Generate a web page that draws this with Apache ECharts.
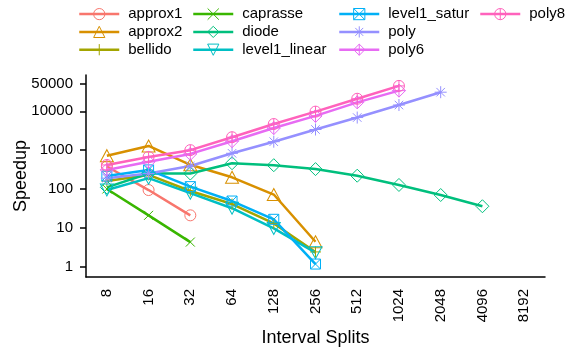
<!DOCTYPE html>
<html>
<head>
<meta charset="utf-8">
<script src="https://cdn.jsdelivr.net/npm/echarts@6/dist/echarts.min.js"></script>
<style>
  html, body { margin: 0; padding: 0; background: #fff; }
  #main { width: 566px; height: 348px; }
</style>
</head>
<body>
<div id="main"></div>
<script>
// interval split counts (x categories)
var splits = ['8', '16', '32', '64', '128', '256', '512', '1024', '2048', '4096', '8192'];
// y tick labels (log scale)
var yTicks = [1, 10, 100, 1000, 10000, 50000];

// speedup per method
var approx1 = [380, 94, 21];
var approx2 = [720, 1280, 420, 200, 72, 4.4];
var bellido = [160, 230, 89, 41, 13, 2.4];
var caprasse = [100, 21, 4.3];
var diode = [110, 250, 250, 460, 410, 325, 220, 127, 70, 36];
var level1_linear = [94, 190, 78, 32, 9.7, 2.3];
var level1_satur = [215, 310, 115, 49, 16.6, 1.17];
var poly = [190, 250, 390, 830, 1650, 3400, 6900, 14500, 31000];
var poly6 = [310, 500, 800, 1700, 3700, 7600, 17000, 34000];
var poly8 = [415, 670, 1000, 2150, 4700, 9800, 21000, 45000];

// R style pch 1..10 as outline paths
var P = {
  circle: 'path://M10,5A5,5,0,1,1,0,5A5,5,0,1,1,10,5Z',
  tri: 'path://M5,0L10,8.66L0,8.66Z',
  plus: 'path://M5,0L5,10M0,5L10,5',
  cross: 'path://M0,0L10,10M0,10L10,0',
  diamond: 'path://M5,0L10,5L5,10L0,5Z',
  triDown: 'path://M0,0L10,0L5,8.66Z',
  boxX: 'path://M0,0L10,0L10,10L0,10ZM0,0L10,10M0,10L10,0',
  star: 'path://M5,0L5,10M0,5L10,5M1.46,1.46L8.54,8.54M1.46,8.54L8.54,1.46',
  diamondPlus: 'path://M5,0L10,5L5,10L0,5ZM5,0L5,10M0,5L10,5',
  circlePlus: 'path://M10,5A5,5,0,1,1,0,5A5,5,0,1,1,10,5ZM5,0L5,10M0,5L10,5'
};

var defs = [
  { name: 'approx1', data: approx1, color: '#F8766D', sym: P.circle, size: 11 },
  { name: 'approx2', data: approx2, color: '#D89000', sym: P.tri, size: [13, 12] },
  { name: 'bellido', data: bellido, color: '#A3A500', sym: P.plus, size: 11 },
  { name: 'caprasse', data: caprasse, color: '#39B600', sym: P.cross, size: 9 },
  { name: 'diode', data: diode, color: '#00BF7D', sym: P.diamond, size: 13 },
  { name: 'level1_linear', data: level1_linear, color: '#00BFC4', sym: P.triDown, size: [13, 12] },
  { name: 'level1_satur', data: level1_satur, color: '#00B0F6', sym: P.boxX, size: 10 },
  { name: 'poly', data: poly, color: '#9590FF', sym: P.star, size: 12 },
  { name: 'poly6', data: poly6, color: '#E76BF3', sym: P.diamondPlus, size: 13 },
  { name: 'poly8', data: poly8, color: '#FF62BC', sym: P.circlePlus, size: 11 }
];

var font = "'Liberation Sans', Arial, sans-serif";

var series = defs.map(function (d) {
  return {
    name: d.name,
    type: 'line',
    data: d.data.map(function (v) { return Math.log10(v); }),
    symbol: d.sym,
    symbolSize: d.size,
    showAllSymbol: true,
    lineStyle: { color: d.color, width: 2.5 },
    itemStyle: { color: 'none', borderColor: d.color, borderWidth: 1 },
    emphasis: { disabled: true }
  };
});

// legend is column-major in the original, so one vertical legend per column
var colLeft = [78, 192, 338, 479];
var legends = [];
for (var c = 0; c < 4; c++) {
  legends.push({
    orient: 'vertical',
    left: colLeft[c],
    top: 6,
    padding: 0,
    itemWidth: 40,
    itemHeight: 14,
    itemGap: 1.6,
    selectedMode: false,
    textStyle: { fontFamily: font, fontSize: 15, lineHeight: 14, color: '#000', padding: [0, 0, 0, 4] },
    data: defs.slice(c * 3, c * 3 + 3).map(function (d) {
      return {
        name: d.name,
        itemStyle: { color: 'none', borderColor: d.color, borderWidth: 1 },
        lineStyle: { color: d.color, width: 2.5 }
      };
    })
  });
}

var tickVals = yTicks.map(function (v) { return Math.log10(v); });

var chart = echarts.init(document.getElementById('main'));
chart.setOption({
  animation: false,
  backgroundColor: '#fff',
  legend: legends,
  grid: { left: 86, right: 21, top: 75, bottom: 71, outerBoundsMode: 'none', containLabel: false },
  xAxis: {
    type: 'category',
    data: splits,
    boundaryGap: true,
    name: 'Interval Splits',
    nameLocation: 'middle',
    nameGap: 52,
    nameMoveOverlap: false,
    nameTextStyle: { fontFamily: font, fontSize: 18, color: '#000' },
    axisLine: { onZero: false, lineStyle: { color: '#000', width: 1.5 } },
    axisTick: { alignWithLabel: true, length: 7, lineStyle: { color: '#000', width: 1.5 } },
    axisLabel: { rotate: 90, margin: 12, fontFamily: font, fontSize: 15, color: '#000', interval: 0 },
    splitLine: { show: false }
  },
  yAxis: {
    type: 'value',
    min: -0.265,
    max: 4.934,
    name: 'Speedup',
    nameLocation: 'middle',
    nameGap: 56,
    nameMoveOverlap: false,
    nameTextStyle: { fontFamily: font, fontSize: 18, color: '#000' },
    axisLine: { show: true, lineStyle: { color: '#000', width: 1.5 } },
    axisTick: { show: true, length: 6, customValues: tickVals, lineStyle: { color: '#000', width: 1.5 } },
    axisLabel: {
      customValues: tickVals,
      margin: 13,
      fontFamily: font,
      fontSize: 15,
      color: '#000',
      formatter: function (v) { return String(Math.round(Math.pow(10, v))); }
    },
    splitLine: { show: false }
  },
  series: series
});
</script>
</body>
</html>
